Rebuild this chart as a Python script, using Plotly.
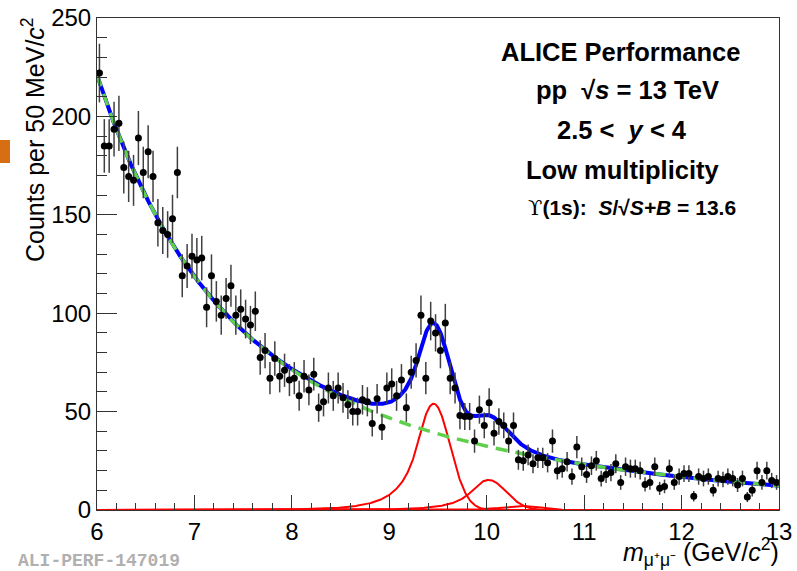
import numpy as np
import plotly.graph_objects as go

# ---------------- data ----------------
bin_low = 6.0
bin_width = 0.05
counts = [
    222, 185, 185, 193.5, 196.5, 174, 169.5, 167.5, 189, 171.5,
    182, 169.5, 146, 142, 140, 148, 171.5, 119, 124, 129,
    127, 128, 103, 119, 106, 99, 107.5, 114, 99, 102,
    97, 94, 101, 77.5, 81, 67, 77, 68, 71, 66,
    67, 58, 68, 61, 69, 52, 55, 62, 58, 62,
    57, 53.5, 50, 50, 56, 55, 44, 56.5, 42, 62,
    64, 58, 66, 52, 70, 76, 99, 67, 96, 90,
    81, 95, 67, 62, 48, 47.5, 47.5, 35, 51, 43,
    54.5, 39, 45, 43, 35, 43, 25.5, 25, 28, 23.5,
    26.5, 26.5, 24, 35, 20, 21, 24.5, 17, 32, 22,
    18, 22.5, 25, 16, 18, 19, 23.5, 14, 22, 21,
    21, 20, 13, 14, 22, 11, 12, 21, 14, 17,
    18.5, 18.5, 7, 17, 16, 17, 10, 16, 15.5, 17,
    16, 12.7, 16, 6.6, 10, 20, 14, 20, 15, 14,
]

# background: sum of two exponentials (amplitude, slope)
bkg_amp = [121.0, 100.0]
bkg_slope = [1.0, 0.30]
# Upsilon peaks (Crystal Ball): mean, sigma, height
peak_mean = [9.455, 10.02, 10.355]
peak_sigma = [0.17, 0.18, 0.19]
peak_height = [54.0, 15.3, 2.0]
cb_alpha = 1.0
cb_n = 5.0

x_ticks = [6, 7, 8, 9, 10, 11, 12, 13]
y_ticks = [0, 50, 100, 150, 200, 250]

# ---------------- derived ----------------
counts = np.array(counts, dtype=float)
mass = bin_low + bin_width * (np.arange(len(counts)) + 0.5)
errors = np.sqrt(counts)

xx = np.linspace(6.0, 13.0, 1401)


def background(x):
    t = x - 6.0
    return bkg_amp[0] * np.exp(-bkg_slope[0] * t) + bkg_amp[1] * np.exp(-bkg_slope[1] * t)


def crystal_ball(x, mu, sig, h):
    t = (x - mu) / sig
    A = (cb_n / cb_alpha) ** cb_n * np.exp(-cb_alpha ** 2 / 2)
    B = cb_n / cb_alpha - cb_alpha
    out = np.where(t > -cb_alpha, np.exp(-0.5 * t ** 2),
                   A * np.power(np.clip(B - t, 1e-9, None), -cb_n))
    return h * out


bkg = background(xx)
peaks = [crystal_ball(xx, m, s, h) for m, s, h in zip(peak_mean, peak_sigma, peak_height)]
total = bkg + sum(peaks)

fig = go.Figure()

for p in peaks:
    fig.add_trace(go.Scatter(x=xx, y=p, mode="lines", cliponaxis=False,
                             line=dict(color="#ff0000", width=2), hoverinfo="skip"))

fig.add_trace(go.Scatter(x=xx, y=total, mode="lines",
                         line=dict(color="#0000ff", width=4), hoverinfo="skip"))
fig.add_trace(go.Scatter(x=xx, y=bkg, mode="lines",
                         line=dict(color="#5fd04c", width=3.5, dash="12px,8px"), hoverinfo="skip"))

fig.add_trace(go.Scatter(
    x=mass, y=counts, mode="markers",
    marker=dict(color="black", size=7),
    error_y=dict(type="data", array=errors, visible=True, color="#404040",
                 thickness=1.5, width=0),
))

W, H = 797, 571
L, R, T, B = 97, 18, 18, 61
pw, ph = W - L - R, H - T - B


def px(xp):
    return (xp - L) / pw


def py(yp):
    return (H - B - yp) / ph


font_main = "Liberation Sans, Arial, sans-serif"

fig.update_layout(
    width=W, height=H,
    margin=dict(l=L, r=R, t=T, b=B, pad=0, autoexpand=False),
    paper_bgcolor="white", plot_bgcolor="white",
    showlegend=False,
    font=dict(family=font_main, color="black"),
    xaxis=dict(
        range=[6, 13], tickvals=x_ticks, ticks="inside", ticklen=15, tickwidth=1,
        tickcolor="#333333", showgrid=False, zeroline=False, automargin=False,
        showline=True, linecolor="#333333", linewidth=1, mirror=True,
        tickfont=dict(size=24, family=font_main),
        minor=dict(dtick=0.2, ticks="inside", ticklen=7, tickcolor="#333333", showgrid=False),
    ),
    yaxis=dict(
        range=[0, 250], tickvals=y_ticks, ticks="inside", ticklen=20, tickwidth=1,
        tickcolor="#333333", showgrid=False, zeroline=False, automargin=False,
        showline=True, linecolor="#333333", linewidth=1, mirror=True,
        tickfont=dict(size=24, family=font_main),
        minor=dict(dtick=10, ticks="inside", ticklen=10, tickcolor="#333333", showgrid=False),
    ),
)

ann = []
ann.append(dict(text="Counts per 50 MeV/<i>c</i><sup>2</sup>", x=px(33), y=py(140),
                xref="paper", yref="paper", textangle=-90, showarrow=False,
                xanchor="center", yanchor="middle", font=dict(size=25, family=font_main)))
ann.append(dict(text="<i>m</i><sub>μ⁺μ⁻</sub> (GeV/<i>c</i><sup>2</sup>)", x=px(781), y=py(552),
                xref="paper", yref="paper", showarrow=False,
                xanchor="right", yanchor="middle", font=dict(size=25, family=font_main)))

upsilon = "<span style=\"font-family:'DejaVu Serif';font-weight:normal\">ϒ</span>"
texts = [
    ("<b>ALICE Performance</b>", 621, 52, 25.5),
    ("<b>pp  √<i>s</i> = 13 TeV</b>", 627, 90, 25.5),
    ("<b>2.5 <  <i>y</i> < 4</b>", 622, 130, 25.5),
    ("<b>Low multiplicity</b>", 622, 170, 25.5),
    ("<b>" + upsilon + "(1s):  <i>S</i>/√<i>S+B</i> = 13.6</b>", 632, 208, 21),
]
for t, xp_, yp_, s in texts:
    ann.append(dict(text=t, x=px(xp_), y=py(yp_), xref="paper", yref="paper",
                    showarrow=False, xanchor="center", yanchor="middle",
                    font=dict(size=s, family=font_main)))

ann.append(dict(text="<b>ALI-PERF-147019</b>", x=px(99), y=py(561), xref="paper", yref="paper",
                showarrow=False, xanchor="center", yanchor="middle",
                font=dict(size=18, family="Liberation Mono, Courier New, monospace", color="#b0b0b0")))
fig.update_layout(annotations=ann)

fig.add_shape(type="rect", xref="paper", yref="paper",
              x0=px(0), x1=px(10), y0=py(163), y1=py(140),
              fillcolor="#d76e14", line=dict(width=0), layer="above")

fig.write_html("out.html")
